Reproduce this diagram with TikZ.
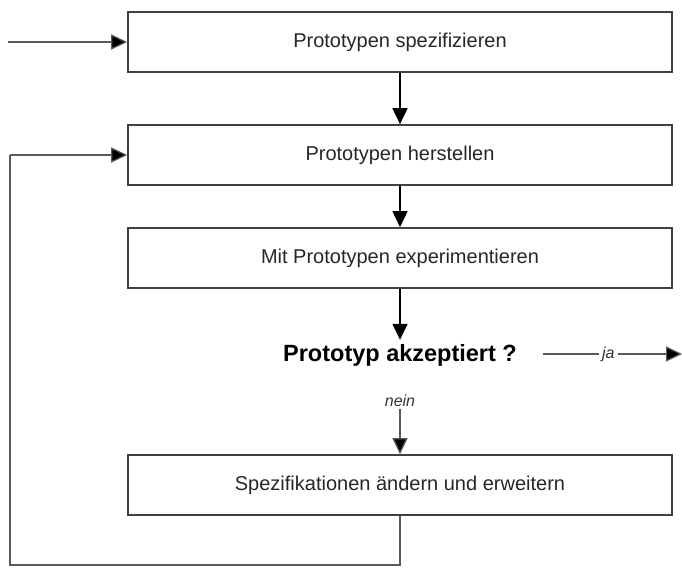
\documentclass[tikz,border=0pt]{standalone}
\usepackage{fontspec}
\setmainfont{Liberation Sans}
\usetikzlibrary{arrows.meta}
\begin{document}
\begin{tikzpicture}[x=1pt,y=-1pt,
  stepbox/.style={draw=black!75, line width=1.6pt, minimum width=544pt, minimum height=60pt,
    inner sep=0pt, font=\fontsize{20}{24}\selectfont, text=black!85},
  flow/.style={draw=black, line width=1.6pt, -{Triangle[length=16pt,width=15pt]}},
  thinflow/.style={draw=black!65, line width=1.2pt, -{Triangle[length=16pt,width=15pt,fill=black]}},
  loopline/.style={draw=black!65, line width=1.2pt},
  lbl/.style={font=\fontsize{16}{18}\selectfont\itshape, inner sep=0pt, text=black!80}]
  \useasboundingbox (0,0) rectangle (682,581);

  % process steps
  \node[stepbox] (b1) at (400,42) {Prototypen spezifizieren};
  \node[stepbox] (b2) at (400,155) {Prototypen herstellen};
  \node[stepbox] (b3) at (400,258) {Mit Prototypen experimentieren};
  \node[stepbox] (b4) at (400,485) {Spezifikationen ändern und erweitern};

  % decision
  \node[font=\fontsize{23.5}{26}\selectfont\bfseries, inner sep=0pt, text height=21pt, text depth=5pt,
        anchor=base] (dec) at (400,361) {Prototyp akzeptiert ?};
  \node[lbl, anchor=base, text depth=3pt] (nein) at (400,406) {nein};

  % entry, exit and loop end points
  \coordinate (start) at (8,42);
  \coordinate (jastart) at (543,354);
  \coordinate (jaend) at (682,354);
  \coordinate (loopbottom) at (400,565);
  \coordinate (loopleft) at (10,565);
  \coordinate (looptop) at (10,155);

  % connectors
  \draw[thinflow] (start) -- (b1.west);
  \draw[flow] (b1.south) -- (b2.north);
  \draw[flow] (b2.south) -- (b3.north);
  \draw[flow] (b3.south) -- (dec.north);
  \draw[thinflow] (nein.south) -- (b4.north);
  \draw[thinflow] (jastart) -- node[lbl, fill=white, inner xsep=3pt, pos=0.47] {ja} (jaend);
  \draw[loopline] (b4.south) -- (loopbottom) -- (loopleft) -- (looptop);
  \draw[thinflow] (looptop) -- (b2.west);
\end{tikzpicture}
\end{document}
